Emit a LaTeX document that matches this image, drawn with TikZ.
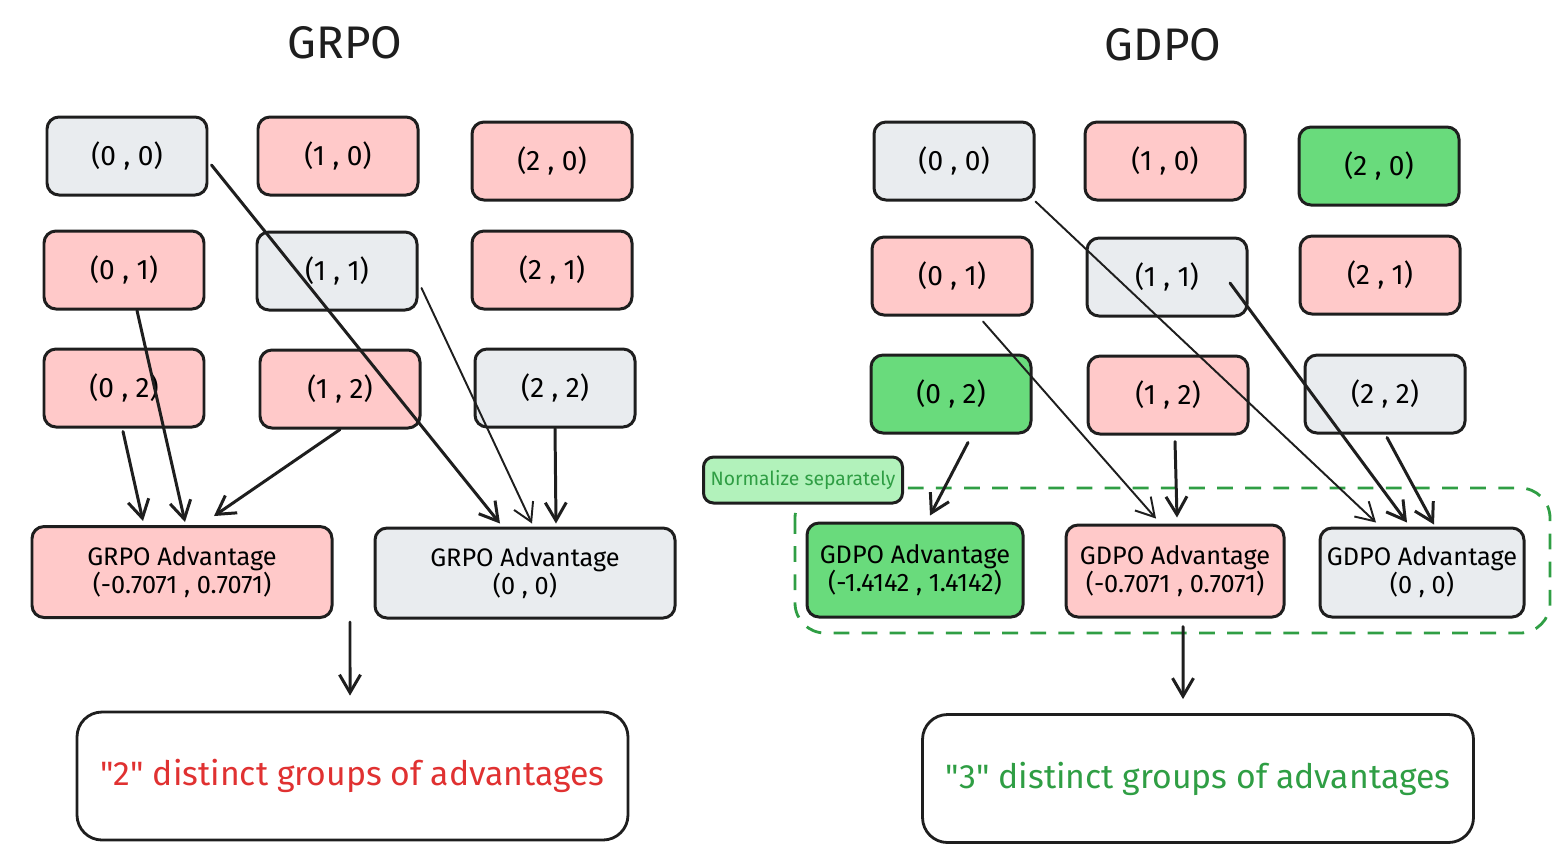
\documentclass[tikz,border=0pt]{standalone}
\usepackage{fontspec}
\setmainfont{Fira Sans}
\usetikzlibrary{arrows.meta}
\definecolor{ink}{HTML}{1E1E1E}
\definecolor{grayfill}{HTML}{E9ECEF}
\definecolor{redfill}{HTML}{FFC9C9}
\definecolor{greenfill}{HTML}{69DB7C}
\definecolor{lightgreen}{HTML}{B2F2BB}
\definecolor{darkgreen}{HTML}{2F9E44}
\definecolor{darkred}{HTML}{E03131}
\begin{document}
\begin{tikzpicture}[
	cellnode/.style={rectangle, rounded corners=1.2mm, draw=ink, line width=0.85pt, minimum width=1.6cm, minimum height=0.78cm, inner sep=1pt, align=center, font=\fontsize{8}{8.6}\selectfont},
	graycell/.style={cellnode, fill=grayfill},
	redcell/.style={cellnode, fill=redfill},
	greencell/.style={cellnode, fill=greenfill},
	advfont/.style={font=\fontsize{7.2}{8}\selectfont},
	sumnode/.style={rectangle, rounded corners=2.5mm, draw=ink, line width=0.8pt, minimum width=5.51cm, minimum height=1.28cm, inner sep=1pt, font=\fontsize{9.6}{11}\selectfont},
	titlenode/.style={font=\fontsize{13}{15}\selectfont, text=ink},
	thickarrow/.style={-{Straight Barb[length=1.8mm, width=2.1mm]}, draw=ink, line width=0.85pt, line cap=round},
	thinarrow/.style={thickarrow, line width=0.55pt},
	]
	\useasboundingbox (0,0) rectangle (15.68,-8.62);
	
	%Titles
	\node[titlenode]	(ltitle)	at (3.45,-0.43)		{GRPO};
	\node[titlenode]	(rtitle)	at (11.63,-0.45)	{GDPO};
	
	%Nodes GRPO
	\node[graycell]		(l00)	at (1.27,-1.56)		{(0 , 0)};
	\node[redcell]		(l10)	at (3.38,-1.56)		{(1 , 0)};
	\node[redcell]		(l20)	at (5.52,-1.61)		{(2 , 0)};
	\node[redcell]		(l01)	at (1.24,-2.70)		{(0 , 1)};
	\node[graycell]		(l11)	at (3.37,-2.71)		{(1 , 1)};
	\node[redcell]		(l21)	at (5.52,-2.70)		{(2 , 1)};
	\node[redcell]		(l02)	at (1.24,-3.88)		{(0 , 2)};
	\node[redcell]		(l12)	at (3.40,-3.89)		{(1 , 2)};
	\node[graycell]		(l22)	at (5.55,-3.88)		{(2 , 2)};
	\node[redcell, advfont, minimum width=3.0cm, minimum height=0.91cm]		(lred)	at (1.82,-5.72)	{GRPO Advantage\\(-0.7071 , 0.7071)};
	\node[graycell, advfont, minimum width=3.0cm, minimum height=0.90cm]	(lgray)	at (5.25,-5.73)	{GRPO Advantage\\(0 , 0)};
	\node[sumnode]		(lsum)	at (3.525,-7.76)	{\textcolor{darkred}{\textquotedbl 2\textquotedbl{} distinct groups of advantages}};
	\coordinate			(lsplit)	at (3.50,-6.22);
	
	%Nodes GDPO
	\draw[darkgreen, line width=0.8pt, dash pattern=on 4.5pt off 3.5pt, rounded corners=3mm] (7.95,-4.88) rectangle (15.50,-6.33);
	\node[cellnode, fill=lightgreen, minimum width=1.99cm, minimum height=0.46cm, rounded corners=1mm, font=\fontsize{5.5}{6}\selectfont, text=darkgreen]	(norm)	at (8.03,-4.80)	{Normalize separately};
	\node[graycell]		(r00)	at (9.54,-1.61)		{(0 , 0)};
	\node[redcell]		(r10)	at (11.65,-1.61)	{(1 , 0)};
	\node[greencell]	(r20)	at (13.79,-1.66)	{(2 , 0)};
	\node[redcell]		(r01)	at (9.52,-2.76)		{(0 , 1)};
	\node[graycell]		(r11)	at (11.67,-2.77)	{(1 , 1)};
	\node[redcell]		(r21)	at (13.80,-2.75)	{(2 , 1)};
	\node[greencell]	(r02)	at (9.51,-3.94)		{(0 , 2)};
	\node[redcell]		(r12)	at (11.68,-3.95)	{(1 , 2)};
	\node[graycell]		(r22)	at (13.85,-3.94)	{(2 , 2)};
	\node[greencell, advfont, minimum width=2.16cm, minimum height=0.94cm]	(rgreen)	at (9.15,-5.70)		{GDPO Advantage\\(-1.4142 , 1.4142)};
	\node[redcell, advfont, minimum width=2.18cm, minimum height=0.92cm]	(rred)		at (11.75,-5.71)	{GDPO Advantage\\(-0.7071 , 0.7071)};
	\node[graycell, advfont, minimum width=2.04cm, minimum height=0.89cm]	(rgray)		at (14.22,-5.725)	{GDPO Advantage\\(0 , 0)};
	\node[sumnode]		(rsum)	at (11.98,-7.785)	{\textcolor{darkgreen}{\textquotedbl 3\textquotedbl{} distinct groups of advantages}};
	
	%Lines GRPO
	\draw[thickarrow] ([shift={(0.03,-0.09)}]l00.east) -- ([shift={(-0.25,0.03)}]lgray.north);
	\draw[thinarrow] ([shift={(0.03,-0.17)}]l11.east) -- ([shift={(0.07,0.03)}]lgray.north);
	\draw[thickarrow] (l22.south) -- ([shift={(0.31,0.03)}]lgray.north);
	\draw[thickarrow] ([xshift=0.13cm]l01.south) -- ([shift={(0.03,0.03)}]lred.north);
	\draw[thickarrow] ([shift={(-0.01,-0.03)}]l02.south) -- ([shift={(-0.39,0.04)}]lred.north);
	\draw[thickarrow] (l12.south) -- ([shift={(0.32,0.09)}]lred.north);
	\draw[thickarrow] (lsplit) -- ([shift={(-0.025,0.15)}]lsum.north);
	
	%Lines GDPO
	\draw[thinarrow] (r00.south east) -- ([shift={(-0.46,0.04)}]rgray.north);
	\draw[thickarrow] ([shift={(0.63,-0.06)}]r11.center) -- ([shift={(-0.15,0.04)}]rgray.north);
	\draw[thickarrow] ([shift={(0.02,-0.03)}]r22.south) -- ([shift={(0.12,0.02)}]rgray.north);
	\draw[thinarrow] ([shift={(0.31,-0.05)}]r01.south) -- ([shift={(-0.19,0.05)}]rred.north);
	\draw[thickarrow] ([shift={(0.07,-0.06)}]r12.south) -- ([shift={(0.02,0.06)}]rred.north);
	\draw[thickarrow] ([shift={(0.17,-0.08)}]r02.south) -- ([shift={(0.15,0.06)}]rgreen.north);
	\draw[thickarrow] ([shift={(0.08,-0.08)}]rred.south) -- ([shift={(-0.15,0.14)}]rsum.north);
	
\end{tikzpicture}
\end{document}
